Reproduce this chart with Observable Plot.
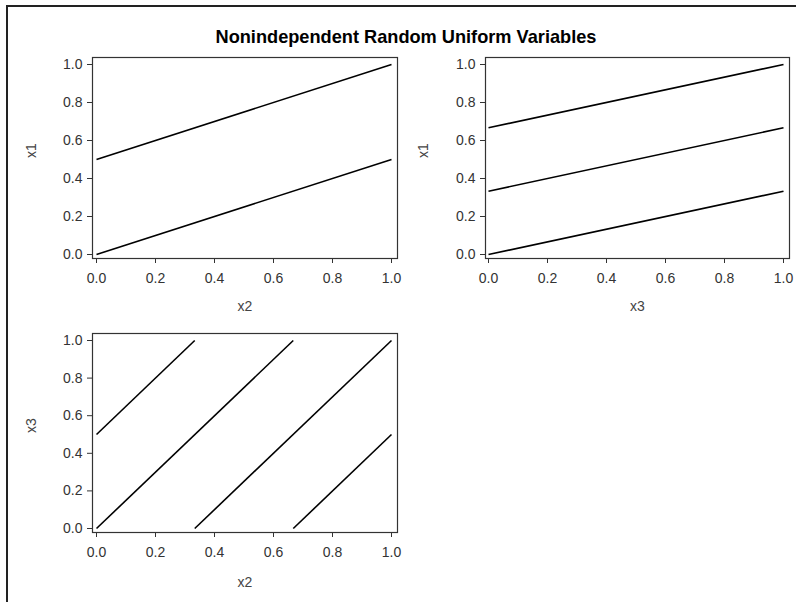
<!DOCTYPE html>
<html><head><meta charset="utf-8">
<script src="https://cdn.jsdelivr.net/npm/d3@7"></script>
<script src="https://cdn.jsdelivr.net/npm/@observablehq/plot@0.6"></script>
<style>
body{margin:0;background:#fff;}
#wrap{position:relative;width:796px;height:602px;overflow:hidden;font-family:"Liberation Sans",Arial,sans-serif;background:#fff;}
#border{position:absolute;left:6px;top:5px;width:820px;height:700px;border-top:2px solid #222;border-left:2px solid #222;}
#title{position:absolute;left:0;width:812px;top:27px;text-align:center;font-weight:bold;font-size:18.2px;color:#000;}
.panel{position:absolute;}
</style></head>
<body><div id="wrap"><div id="border"></div><div id="title">Nonindependent Random Uniform Variables</div></div>
<script>
// tick values and labels (shared by all axes)
const tickValues = [0, 0.2, 0.4, 0.6, 0.8, 1.0];
const tickLabels = ["0.0", "0.2", "0.4", "0.6", "0.8", "1.0"];

// Panel 1: x1 (vertical) vs x2 (horizontal) — segments of the point clouds
const p1StartX = [0, 0];
const p1StartY = [0, 0.5];
const p1EndX = [1, 1];
const p1EndY = [0.5, 1];

// Panel 2: x1 (vertical) vs x3 (horizontal)
const p2StartX = [0, 0, 0];
const p2StartY = [0, 0.333, 0.667];
const p2EndX = [1, 1, 1];
const p2EndY = [0.333, 0.667, 1];

// Panel 3: x3 (vertical) vs x2 (horizontal)
const p3StartX = [0, 0, 0.333, 0.667];
const p3StartY = [0.5, 0, 0, 0];
const p3EndX = [0.333, 0.667, 1, 1];
const p3EndY = [1, 1, 1, 0.5];

function segs(sx, sy, ex, ey) {
  return sx.map((_, i) => ({x1: sx[i], y1: sy[i], x2: ex[i], y2: ey[i]}));
}

function panel(o) {
  const fmt = d => tickLabels[tickValues.indexOf(d)];
  const chart = Plot.plot({
    width: o.width, height: o.height,
    marginLeft: o.ml, marginRight: o.mr, marginTop: o.mt, marginBottom: o.mb,
    insetLeft: o.il, insetRight: o.ir, insetTop: 7, insetBottom: 4,
    x: {domain: [0, 1]},
    y: {domain: [0, 1]},
    style: {fontFamily: '"Liberation Sans", Arial, sans-serif', fontSize: "14px", color: "#333", background: "transparent", overflow: "visible"},
    marks: [
      Plot.frame({stroke: "#333", strokeWidth: 1.2}),
      Plot.axisX(tickValues, {tickFormat: fmt, tickSize: 5, tickPadding: 10, label: null, stroke: "#333", fill: "#333", fontSize: 14}),
      Plot.axisY(tickValues, {tickFormat: fmt, tickSize: 5, tickPadding: 5, label: null, stroke: "#333", fill: "#333", fontSize: 14}),
      Plot.link(o.data, {x1: "x1", y1: "y1", x2: "x2", y2: "y2", stroke: "#000", strokeWidth: 1.6}),
      Plot.text([o.xLabel], {frameAnchor: "bottom", dy: o.xdy, lineAnchor: "middle", fill: "#444", fontSize: 14}),
      Plot.text([o.yLabel], {frameAnchor: "left", dx: o.ydx, rotate: -90, lineAnchor: "middle", fill: "#444", fontSize: 14})
    ]
  });
  chart.classList.add("panel");
  chart.style.left = o.left + "px";
  chart.style.top = o.top + "px";
  document.getElementById("wrap").appendChild(chart);
}

panel({data: segs(p1StartX, p1StartY, p1EndX, p1EndY), xLabel: "x2", yLabel: "x1",
  left: 0, top: 40, width: 400, height: 280, ml: 92, mr: 3, mt: 17, mb: 62, il: 4, ir: 6, xdy: 48, ydx: -61});
panel({data: segs(p2StartX, p2StartY, p2EndX, p2EndY), xLabel: "x3", yLabel: "x1",
  left: 396, top: 40, width: 400, height: 280, ml: 89, mr: 7, mt: 17, mb: 62, il: 3, ir: 6, xdy: 48, ydx: -62});
panel({data: segs(p3StartX, p3StartY, p3EndX, p3EndY), xLabel: "x2", yLabel: "x3",
  left: 0, top: 316, width: 400, height: 286, ml: 92, mr: 3, mt: 17, mb: 70, il: 4, ir: 6, xdy: 50, ydx: -61});
</script>
</body></html>
